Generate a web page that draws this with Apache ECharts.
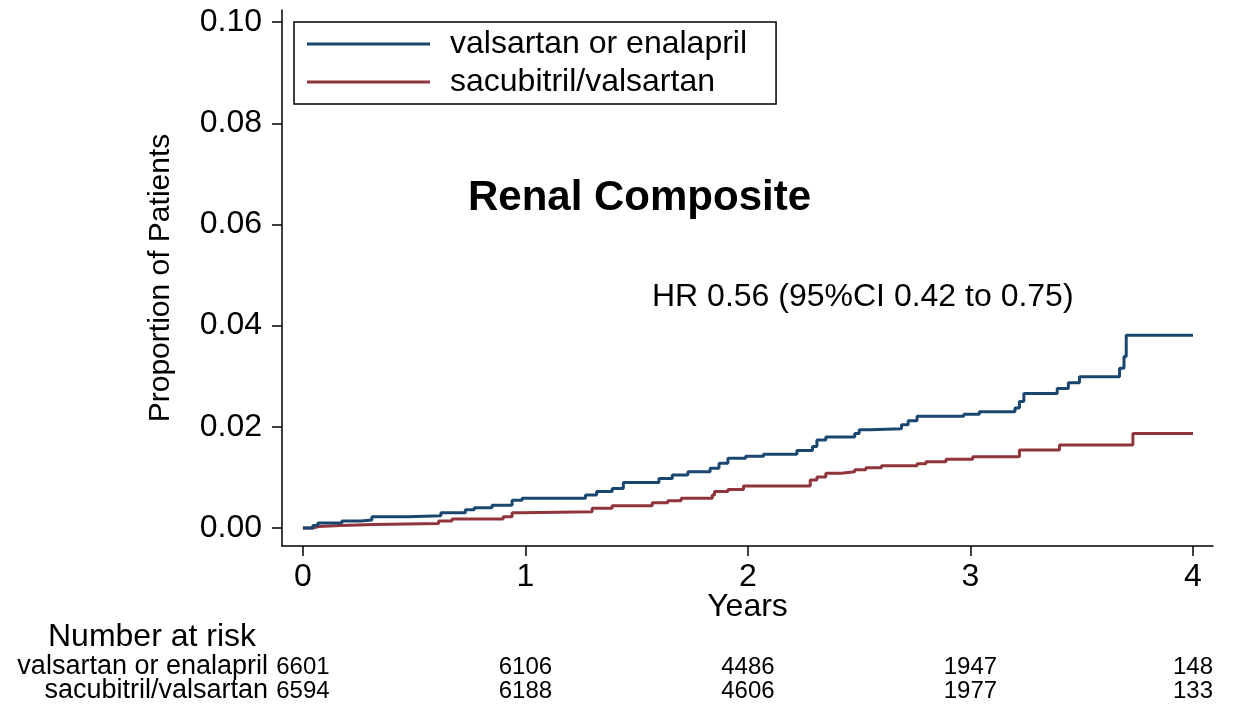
<!DOCTYPE html>
<html>
<head>
<meta charset="utf-8">
<script src="https://cdn.jsdelivr.net/npm/echarts@6/dist/echarts.min.js"></script>
<style>
  html, body { margin: 0; padding: 0; background: #fff; }
  #chart { width: 1240px; height: 708px; }
</style>
</head>
<body>
<div id="chart"></div>
<script>
// Cumulative incidence (Kaplan-Meier steps): event times in years and proportion of patients
const groupNames = ['valsartan or enalapril', 'sacubitril/valsartan'];

const valEnaTimes = [0, 0.045, 0.067, 0.175, 0.26, 0.31, 0.47, 0.62, 0.73, 0.77, 0.85, 0.94, 0.985,
  1.27, 1.32, 1.39, 1.44, 1.60, 1.66, 1.73, 1.83, 1.87, 1.91, 1.99, 2.07, 2.22, 2.29, 2.31, 2.35,
  2.48, 2.50, 2.55, 2.69, 2.72, 2.76, 2.97, 3.04, 3.20, 3.22, 3.24, 3.39, 3.44, 3.49, 3.67, 3.69,
  3.70, 4.00];
const valEnaRisk = [0, 0.0005, 0.0010, 0.0014, 0.0016, 0.0022, 0.0024, 0.0030, 0.0036, 0.0040, 0.0045,
  0.0055, 0.0059, 0.0065, 0.0072, 0.0078, 0.0090, 0.0098, 0.0105, 0.0111, 0.0118, 0.0128, 0.0138,
  0.0142, 0.0146, 0.0153, 0.0161, 0.0174, 0.0180, 0.0187, 0.0194, 0.0196, 0.0204, 0.0212, 0.0221,
  0.0225, 0.0230, 0.0237, 0.0250, 0.0266, 0.0276, 0.0287, 0.0299, 0.0316, 0.0339, 0.0381, 0.0381];

const sacValTimes = [0, 0.045, 0.07, 0.17, 0.32, 0.61, 0.67, 0.90, 0.94, 0.985, 1.30, 1.39, 1.57, 1.64,
  1.70, 1.84, 1.85, 1.91, 1.98, 2.28, 2.31, 2.35, 2.42, 2.48, 2.53, 2.60, 2.76, 2.80, 2.89, 3.01,
  3.22, 3.40, 3.73, 4.00];
const sacValRisk = [0, 0.0003, 0.0005, 0.0007, 0.0009, 0.0014, 0.0018, 0.0022, 0.0030, 0.0032, 0.0039,
  0.0044, 0.0050, 0.0054, 0.0059, 0.0065, 0.0072, 0.0076, 0.0083, 0.0095, 0.0101, 0.0108, 0.0111,
  0.0115, 0.0119, 0.0123, 0.0127, 0.0131, 0.0136, 0.0141, 0.0154, 0.0164, 0.0187, 0.0187];

// Axis ticks
const yearTicks = [0, 1, 2, 3, 4];
const proportionTicks = [0, 0.02, 0.04, 0.06, 0.08, 0.10];

// Number at risk, at each year tick
const riskYears = [0, 1, 2, 3, 4];
const atRiskValEna = [6601, 6106, 4486, 1947, 148];
const atRiskSacVal = [6594, 6188, 4606, 1977, 133];

const colors = ['#1a476f', '#90353b'];
const FONT = '"Liberation Sans", Arial, Helvetica, sans-serif';

const pairs = (xs, ys) => xs.map((x, i) => [x, ys[i]]);
const riskRows = [];
riskYears.forEach((yr, i) => {
  riskRows.push([yr, groupNames[0], atRiskValEna[i]]);
  riskRows.push([yr, groupNames[1], atRiskSacVal[i]]);
});

const chart = echarts.init(document.getElementById('chart'), null, { renderer: 'canvas' });

const option = {
  backgroundColor: '#ffffff',
  animation: false,
  textStyle: { fontFamily: FONT, color: '#000' },
  grid: [
    { left: 282, right: 27, top: 10, bottom: 162, containLabel: false },
    { left: 282, right: 27, top: 655, height: 48, containLabel: false }
  ],
  legend: {
    data: groupNames,
    orient: 'vertical',
    left: 294,
    top: 22,
    padding: [6, 29, 6, 13],
    itemGap: 6,
    itemWidth: 123,
    itemHeight: 3,
    icon: 'rect',
    borderColor: '#000',
    borderWidth: 1.5,
    backgroundColor: '#fff',
    textStyle: { fontFamily: FONT, fontSize: 32, color: '#000', lineHeight: 32, padding: [0, 0, 0, 15] }
  },
  xAxis: [
    {
      gridIndex: 0,
      type: 'value',
      min: -0.094,
      max: 4.09,
      name: 'Years',
      nameLocation: 'middle',
      nameGap: 45,
      nameMoveOverlap: false,
      nameTextStyle: { fontFamily: FONT, fontSize: 32, color: '#000' },
      axisLine: { onZero: false, lineStyle: { color: '#000', width: 1.5 } },
      axisTick: { show: true, length: 10, customValues: yearTicks, lineStyle: { color: '#000', width: 1.5 } },
      axisLabel: { customValues: yearTicks, fontSize: 32, color: '#000', margin: 15, fontFamily: FONT },
      splitLine: { show: false }
    },
    {
      gridIndex: 1,
      type: 'value',
      min: -0.094,
      max: 4.09,
      show: false
    }
  ],
  yAxis: [
    {
      gridIndex: 0,
      type: 'value',
      min: -0.00356,
      max: 0.1024,
      name: 'Proportion of Patients',
      nameLocation: 'middle',
      nameRotate: 90,
      nameGap: 106,
      nameTextStyle: { fontFamily: FONT, fontSize: 30, color: '#000' },
      axisLine: { show: true, onZero: false, lineStyle: { color: '#000', width: 1.5 } },
      axisTick: { show: true, length: 10, customValues: proportionTicks, lineStyle: { color: '#000', width: 1.5 } },
      axisLabel: {
        customValues: proportionTicks,
        fontSize: 32, color: '#000', margin: 20, fontFamily: FONT,
        formatter: v => v.toFixed(2)
      },
      splitLine: { show: false }
    },
    {
      gridIndex: 1,
      type: 'category',
      data: groupNames,
      inverse: true,
      axisLine: { show: false },
      axisTick: { show: false },
      splitLine: { show: false },
      axisLabel: { interval: 0, fontSize: 27, color: '#000', margin: 14, fontFamily: FONT }
    }
  ],
  graphic: [
    {
      type: 'text', left: 468, top: 177,
      style: { text: 'Renal Composite', font: 'bold 42px ' + FONT, fill: '#000' }
    },
    {
      type: 'text', left: 652, top: 281,
      style: { text: 'HR 0.56 (95%CI 0.42 to 0.75)', font: '32px ' + FONT, fill: '#000' }
    },
    {
      type: 'text', left: 48, top: 621,
      style: { text: 'Number at risk', font: '32px ' + FONT, fill: '#000' }
    }
  ],
  series: [
    {
      name: groupNames[0],
      type: 'line',
      xAxisIndex: 0, yAxisIndex: 0,
      step: 'end',
      symbol: 'none',
      data: pairs(valEnaTimes, valEnaRisk),
      lineStyle: { color: colors[0], width: 3 },
      itemStyle: { color: colors[0] },
      z: 3
    },
    {
      name: groupNames[1],
      type: 'line',
      xAxisIndex: 0, yAxisIndex: 0,
      step: 'end',
      symbol: 'none',
      data: pairs(sacValTimes, sacValRisk),
      lineStyle: { color: colors[1], width: 3 },
      itemStyle: { color: colors[1] },
      z: 2
    },
    {
      name: 'Number at risk',
      type: 'scatter',
      xAxisIndex: 1, yAxisIndex: 1,
      symbolSize: 0,
      data: riskRows,
      itemStyle: { color: 'rgba(0,0,0,0)', opacity: 1 },
      label: {
        show: true,
        position: 'inside',
        formatter: p => String(p.value[2]),
        fontSize: 24,
        color: '#000',
        opacity: 1,
        fontFamily: FONT
      },
      silent: true
    }
  ]
};

chart.setOption(option);
</script>
</body>
</html>
